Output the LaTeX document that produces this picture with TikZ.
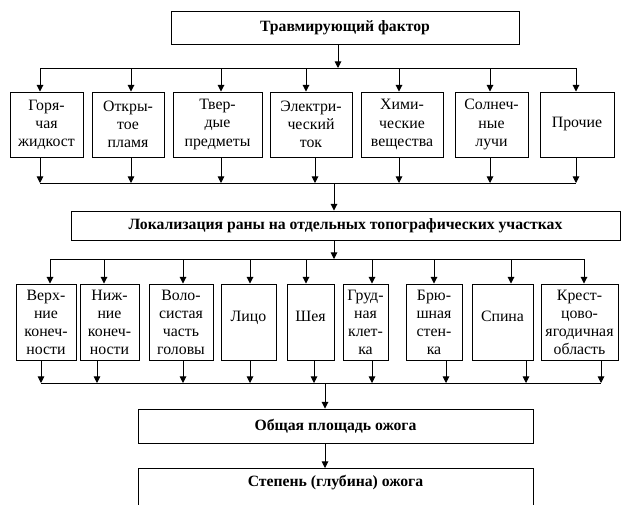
\documentclass[tikz,border=0pt]{standalone}
\usepackage{fontspec}
\setmainfont{Liberation Serif}
\usetikzlibrary{arrows.meta}

\begin{document}
\begin{tikzpicture}[x=0.03cm,y=-0.03cm,line width=0.8pt,>={Triangle[length=2mm,width=2mm]},
  font=\fontsize{13.5}{15.4}\selectfont,
  hb/.style={draw,align=center,inner sep=1pt,font=\fontsize{13.4}{15}\selectfont\bfseries},
  fb/.style={draw,align=center,inner sep=1pt,minimum height=1.95cm},
  lb/.style={draw,align=center,inner sep=1pt,minimum height=2.28cm},
  lift/.style={text depth=0.36cm}]
  \useasboundingbox (0,0) rectangle (621,504);
  \clip (0,0) rectangle (621,504);
  % headers
  \node[hb,minimum width=10.44cm,minimum height=0.99cm] (top) at (345,27.5) {Травмирующий фактор};
  \node[hb,minimum width=16.47cm,minimum height=0.87cm] (lok) at (345.5,225.5) {Локализация раны на отдельных топографических участках};
  \node[hb,minimum width=11.85cm,minimum height=1.02cm] (area) at (335.5,426) {Общая площадь ожога};
  \node[hb,minimum width=11.85cm,text height=0.5cm,text depth=1.6cm,anchor=north] (deg) at (335.5,468) {Степень (глубина) ожога};
  % factors
  \node[fb,minimum width=2.19cm] (g1) at (46.5,124.5) {Горя-\\чая\\жидкост};
  \node[fb,minimum width=2.16cm] (g2) at (128,124.5) {Откры-\\тое\\пламя};
  \node[fb,minimum width=2.67cm] (g3) at (217.5,124.5) {Твер-\\дые\\предметы};
  \node[fb,minimum width=2.46cm] (g4) at (311,124.5) {Электри-\\ческий\\ток};
  \node[fb,minimum width=2.46cm] (g5) at (402,124.5) {Хими-\\ческие\\вещества};
  \node[fb,minimum width=2.19cm] (g6) at (491.5,124.5) {Солнеч-\\ные\\лучи};
  \node[fb,minimum width=2.22cm] (g7) at (577,124.5) {Прочие};
  % body areas
  \node[lb,minimum width=1.80cm] (r1) at (46,322) {Верх-\\ние\\конеч-\\ности};
  \node[lb,minimum width=1.77cm] (r2) at (109.5,322) {Ниж-\\ние\\конеч-\\ности};
  \node[lb,minimum width=1.92cm] (r3) at (181,322) {Воло-\\систая\\часть\\головы};
  \node[lb,lift,minimum width=1.65cm] (r4) at (248.5,322) {Лицо};
  \node[lb,lift,minimum width=1.41cm] (r5) at (310.5,322) {Шея};
  \node[lb,minimum width=1.35cm] (r6) at (365.5,322) {Груд-\\ная\\клет-\\ка};
  \node[lb,minimum width=1.68cm] (r7) at (434,322) {Брю-\\шная\\стен-\\ка};
  \node[lb,lift,minimum width=1.83cm] (r8) at (502.5,322) {Спина};
  \node[lb,minimum width=2.31cm] (r9) at (579.5,322) {Крест-\\цово-\\ягодичная\\область};
  % buses of the first row
  \foreach \n/\a/\b in {1/40/40,2/131/131,3/221/221,4/306/315,5/399/399,6/490/490,7/576/576}{
    \coordinate (ta\n) at (\a,68);
    \coordinate (sa\n) at (\b,183);
    \draw[->] (ta\n) -- (ta\n |- g\n.north);
    \draw[->] (g\n.south -| sa\n) -- (sa\n);
  }
  \draw (ta1) -- (ta7);
  \draw (sa1) -- (sa7);
  % buses of the second row
  \foreach \n/\a/\b in {1/50/41,2/104/97,3/183/183,4/250/250,5/306/314,6/372/372,7/434/446,8/511/526,9/584/601}{
    \coordinate (tb\n) at (\a,259);
    \coordinate (sb\n) at (\b,383);
    \draw[->] (tb\n) -- (tb\n |- r\n.north);
    \draw[->] (r\n.south -| sb\n) -- (sb\n);
  }
  \draw (tb1) -- (tb9);
  \draw (sb1) -- (sb9);
  % main line
  \coordinate (j1) at (338,68);
  \coordinate (j2) at (334,183);
  \coordinate (j3) at (334,259);
  \coordinate (j4) at (325,383);
  \draw[->] (top.south -| j1) -- (j1);
  \draw[->] (j2) -- (lok.north -| j2);
  \draw[->] (lok.south -| j3) -- (j3);
  \draw[->] (j4) -- (area.north -| j4);
  \draw[->] (area.south -| j4) -- (deg.north -| j4);
\end{tikzpicture}
\end{document}
